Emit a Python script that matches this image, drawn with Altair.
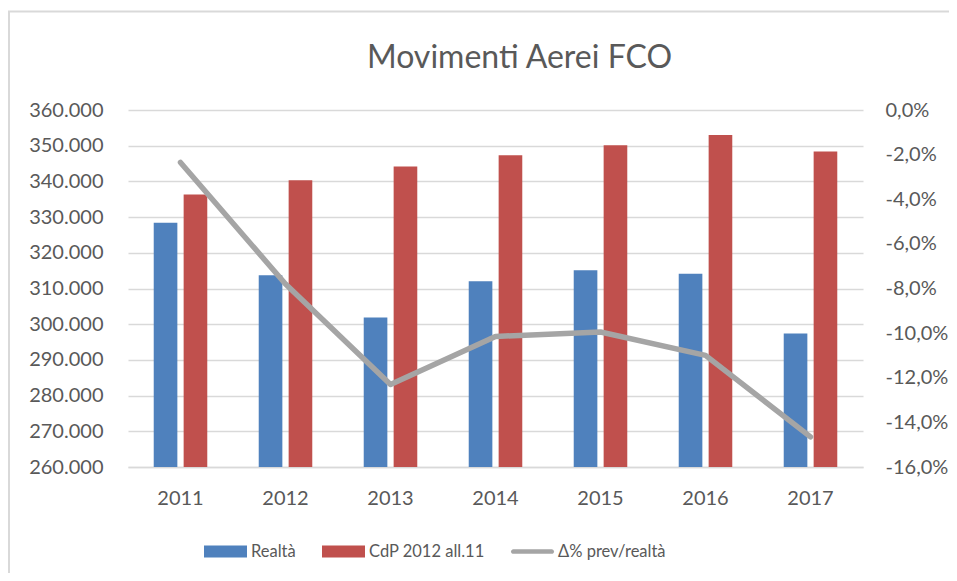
import altair as alt
import pandas as pd

# ---- data ----
anni = ["2011", "2012", "2013", "2014", "2015", "2016", "2017"]
realta = [328400, 313700, 301900, 312000, 315100, 314100, 297400]
cdp = [336300, 340300, 344200, 347300, 350100, 353000, 348400]
delta = [-0.0235, -0.078, -0.123, -0.1015, -0.0995, -0.110, -0.1465]
serie = ["Realtà", "CdP 2012 all.11", "Δ% prev/realtà"]
colori = ["#4F81BD", "#C0504D", "#A5A5A5"]
left_ticks = [260000, 270000, 280000, 290000, 300000, 310000, 320000, 330000, 340000, 350000, 360000]
right_ticks = [-0.16, -0.14, -0.12, -0.10, -0.08, -0.06, -0.04, -0.02, 0.0]

bars_df = pd.DataFrame({
    "anno": anni * 2,
    "serie": [serie[0]] * len(anni) + [serie[1]] * len(anni),
    "valore": realta + cdp,
})
line_df = pd.DataFrame({"anno": anni, "delta": delta})
leg_df = pd.DataFrame({"serie": serie})
frame_df = pd.DataFrame({"k": [0]})

FONT = "Lato"
TXT = "#595959"
GRID = "#D9D9D9"

x_enc = alt.X(
    "anno:N", sort=anni, title=None,
    scale=alt.Scale(paddingInner=0.49, paddingOuter=0.245),
    axis=alt.Axis(labelAngle=0, ticks=False, domainColor=GRID, domainWidth=1.5,
                  labelPadding=21, labelFontSize=20, labelColor=TXT, labelFont=FONT,
                  grid=False),
)

color_scale = alt.Scale(domain=serie, range=colori)

paths = [
    "M-1,-0.28H1V0.28H-1Z",
    "M-1,-0.28H1V0.28H-1Z",
    "M-0.89,-0.11H0.89A0.11,0.11 0 0 1 0.89,0.11H-0.89A0.11,0.11 0 0 1 -0.89,-0.11Z",
]
leg = alt.Legend(title=None, orient="none", legendX=76, legendY=420,
                 direction="horizontal", symbolSize=1849, symbolOpacity=1,
                 symbolStrokeWidth=0, labelFont=FONT, labelFontSize=16.5,
                 labelColor=TXT, labelOffset=4, columnPadding=26)

bars = alt.Chart(bars_df).mark_bar(clip=True).encode(
    x=x_enc,
    xOffset=alt.XOffset("serie:N", sort=serie[:2],
                        scale=alt.Scale(paddingInner=0.21, paddingOuter=0)),
    y=alt.Y("valore:Q", title=None,
            scale=alt.Scale(domain=[260000, 360000], zero=False, nice=False),
            axis=alt.Axis(orient="left", values=left_ticks,
                          labelExpr="replace(format(datum.value, ',.0f'), ',', '.')",
                          ticks=False, domain=False, grid=True, gridColor=GRID,
                          gridWidth=1.5, labelPadding=25, labelFontSize=20,
                          labelColor=TXT, labelFont=FONT)),
    color=alt.Color("serie:N", scale=color_scale, legend=leg),
)

line = alt.Chart(line_df).mark_line(
    color="#A5A5A5", strokeWidth=5.5, strokeCap="round", strokeJoin="round"
).encode(
    x=x_enc,
    y=alt.Y("delta:Q", title=None,
            scale=alt.Scale(domain=[-0.16, 0], zero=False, nice=False),
            axis=alt.Axis(orient="right", values=right_ticks,
                          labelExpr="replace(replace(format(datum.value, '.1%'), '.', ','), '\u2212', '-')",
                          ticks=False, domain=False, grid=False, labelPadding=22,
                          labelFontSize=20, labelColor=TXT, labelFont=FONT)),
)

legend_layer = alt.Chart(leg_df).mark_point(filled=True, opacity=0).encode(
    x=alt.value(0), y=alt.value(0),
    color=alt.Color("serie:N", scale=color_scale, legend=leg),
    shape=alt.Shape("serie:N", scale=alt.Scale(domain=serie, range=paths), legend=leg),
)

frame_top = alt.Chart(frame_df).mark_rule(color=GRID, strokeWidth=2).encode(
    x=alt.value(-120), x2=alt.value(830), y=alt.value(-98.5))
frame_left = alt.Chart(frame_df).mark_rule(color=GRID, strokeWidth=2).encode(
    x=alt.value(-119), y=alt.value(-98.5), y2=alt.value(470))

chart = alt.layer(frame_top, frame_left, bars, line, legend_layer).resolve_scale(
    y="independent"
).properties(
    width=735, height=357,
    autosize=alt.AutoSizeParams(type="none"),
    padding={"left": 120, "top": 102, "right": 86, "bottom": 106},
    title=alt.TitleParams("Movimenti Aerei FCO", font=FONT, fontSize=32,
                          fontWeight="normal", color=TXT, anchor="middle",
                          dx=24, dy=89, offset=0, baseline="alphabetic"),
).configure_view(stroke=None)

chart.save("out.html", embed_options={"renderer": "svg", "actions": False})
